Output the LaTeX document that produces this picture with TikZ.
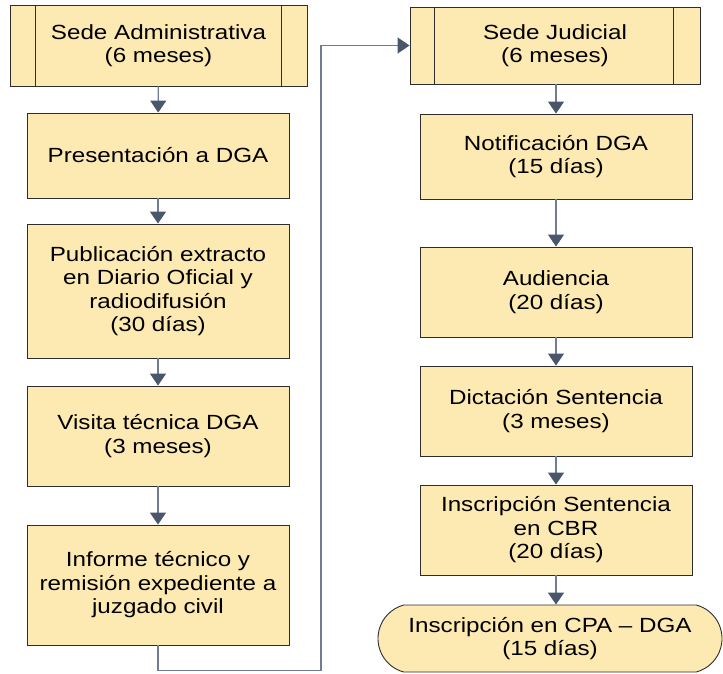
\documentclass[tikz,border=0pt]{standalone}
\usepackage{fontspec}
\setmainfont{Liberation Sans}[FakeStretch=1.18]
\usetikzlibrary{arrows.meta,shapes.misc}
\definecolor{boxfill}{RGB}{253,233,178}
\definecolor{boxline}{RGB}{45,45,45}
\definecolor{flowline}{RGB}{112,124,146}
\definecolor{flowtip}{RGB}{74,86,107}
\tikzset{stage/.style={rectangle,draw=boxline,fill=boxfill,line width=0.9pt,inner sep=0pt,align=center,font=\fontsize{20.5}{23.5}\selectfont}}
\tikzset{finish/.style={stage,rounded rectangle,rounded rectangle arc length=150}}
\tikzset{flow/.style={draw=flowline,line width=1.2pt,-{Triangle[length=12pt,width=16pt,color=flowtip]}}}

\begin{document}
\begin{tikzpicture}[x=1pt,y=-1pt]
    \useasboundingbox (0,0) rectangle (723,673);
    \node[stage,minimum width=297pt,minimum height=81pt] (sa) at (158.5,45.5) {Sede Administrativa\\(6 meses)};
    \draw[boxline,line width=0.9pt] ([xshift=26pt]sa.north west) -- ([xshift=26pt]sa.south west);
    \draw[boxline,line width=0.9pt] ([xshift=-26pt]sa.north east) -- ([xshift=-26pt]sa.south east);
    \node[stage,minimum width=262pt,minimum height=85pt] (pd) at (158,155.5) {Presentación a DGA};
    \node[stage,minimum width=262pt,minimum height=134pt] (pe) at (158,291) {Publicación extracto\\en Diario Oficial y\\radiodifusión\\(30 días)};
    \node[stage,minimum width=262pt,minimum height=100pt] (vt) at (158,436) {Visita técnica DGA\\(3 meses)};
    \node[stage,minimum width=262pt,minimum height=120pt] (it) at (158,585) {Informe técnico y\\remisión expediente a\\juzgado civil};
    \node[stage,minimum width=290pt,minimum height=77pt] (sj) at (555,45.5) {Sede Judicial\\(6 meses)};
    \draw[boxline,line width=0.9pt] ([xshift=25pt]sj.north west) -- ([xshift=25pt]sj.south west);
    \draw[boxline,line width=0.9pt] ([xshift=-27pt]sj.north east) -- ([xshift=-27pt]sj.south east);
    \node[stage,minimum width=272pt,minimum height=85pt] (nd) at (556,156.5) {Notificación DGA\\(15 días)};
    \node[stage,minimum width=272pt,minimum height=90pt] (au) at (556,292) {Audiencia\\(20 días)};
    \node[stage,minimum width=272pt,minimum height=90pt] (ds) at (556,411) {Dictación Sentencia\\(3 meses)};
    \node[stage,minimum width=272pt,minimum height=90pt] (is) at (556,530) {Inscripción Sentencia\\en CBR\\(20 días)};
    \node[finish,minimum width=344pt,minimum height=67pt] (ic) at (550,638.5) {Inscripción en CPA – DGA\\(15 días)};
    \draw[flow] (sa) -- (pd);
    \draw[flow] (pd) -- (pe);
    \draw[flow] (pe) -- (vt);
    \draw[flow] (vt) -- (it);
    \draw[flow] (it.south) -- ++(0,25) -| (321,45.5) -- (sj.west);
    \draw[flow] (sj.south -| nd.north) -- (nd);
    \draw[flow] (nd) -- (au);
    \draw[flow] (au) -- (ds);
    \draw[flow] (ds) -- (is);
    \draw[flow] (is.south) -- (is.south |- ic.north);
  \end{tikzpicture}
\end{document}
